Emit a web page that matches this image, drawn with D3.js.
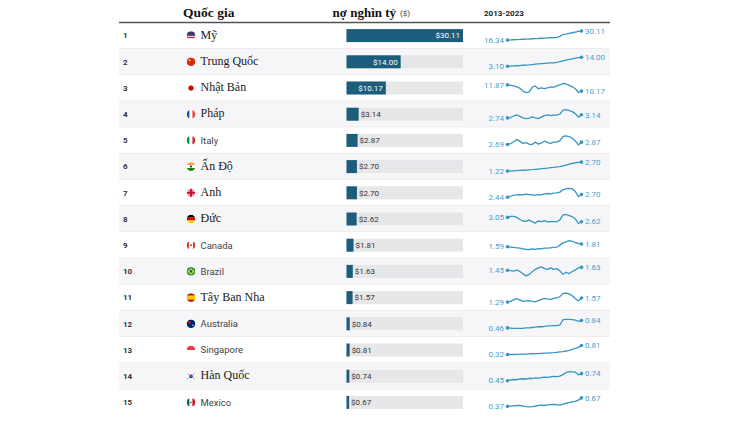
<!DOCTYPE html>
<html><head><meta charset="utf-8">
<script src="https://cdn.jsdelivr.net/npm/d3@7"></script>
<style>body{margin:0;background:#fff}svg{display:block}</style>
</head><body>
<svg id="c" width="730" height="426"></svg>
<script>
// ---------- data ----------
const ranks = [1,2,3,4,5,6,7,8,9,10,11,12,13,14,15];
const countries = ["Mỹ","Trung Quốc","Nhật Bản","Pháp","Italy","Ấn Độ","Anh","Đức","Canada","Brazil","Tây Ban Nha","Australia","Singapore","Hàn Quốc","Mexico"];
const flagCodes = ["us","cn","jp","fr","it","in","gb","de","ca","br","es","au","sg","kr","mx"];
const debt = [30.11,14.00,10.17,3.14,2.87,2.70,2.70,2.62,1.81,1.63,1.57,0.84,0.81,0.74,0.67];
const headers = ["Quốc gia","nợ nghìn tỷ","($)","2013-2023"];
const trendUS = [16.34,16.55,16.9,17.1,17.3,17.65,17.85,18.05,18.4,18.6,18.8,19.15,19.3,19.6,19.9,20.1,20.4,22.0,25.0,25.6,26.6,27.6,28.6,29.6,30.11];
const trendCN = [3.10,3.3,3.5,3.75,3.95,4.4,4.6,4.8,5.25,5.7,6.1,6.3,6.55,7.0,7.2,7.4,7.9,8.7,9.6,10.5,11.4,12.2,13.1,13.6,14.00];
const trendJP = [11.87,11.74,11.61,11.35,10.95,10.17,9.78,9.91,11.22,11.61,10.82,11.08,10.82,11.08,11.35,11.22,11.61,11.87,12.26,12.13,11.74,11.35,10.82,9.78,10.17];
const trendFR = [2.74,2.79,2.99,3.14,2.94,2.74,2.64,2.69,2.89,2.74,2.64,2.84,3.04,3.14,3.04,3.09,3.09,3.24,3.74,3.79,3.69,3.54,3.29,2.84,3.14];
const trendIT = [2.69,2.75,2.90,3.08,2.93,2.78,2.84,2.72,2.69,2.87,2.72,2.81,2.96,2.84,2.78,2.87,2.87,2.99,3.32,3.35,3.29,3.17,2.96,2.66,2.87];
const trendIN = [1.22,1.25,1.27,1.31,1.33,1.36,1.38,1.42,1.45,1.50,1.56,1.61,1.68,1.72,1.79,1.84,1.90,1.96,2.07,2.19,2.36,2.47,2.59,2.64,2.70];
const trendGB = [2.44,2.54,2.64,2.67,2.70,2.67,2.73,2.70,2.67,2.64,2.70,2.67,2.77,2.80,2.77,2.83,2.86,2.93,3.15,3.25,3.29,3.25,2.99,2.50,2.70];
const trendDE = [3.05,3.16,3.16,3.05,2.84,2.69,2.66,2.77,2.62,2.48,2.69,2.62,2.73,2.59,2.62,2.62,2.62,2.80,3.30,3.34,3.23,3.12,2.91,2.44,2.62];
const trendCA = [1.59,1.56,1.53,1.50,1.47,1.40,1.37,1.34,1.40,1.37,1.43,1.40,1.47,1.47,1.50,1.53,1.56,1.72,1.91,2.00,2.09,2.03,1.94,1.87,1.81];
const trendBR = [1.45,1.42,1.40,1.45,1.37,1.22,1.09,1.17,1.35,1.50,1.60,1.66,1.55,1.50,1.60,1.50,1.55,1.40,1.19,1.32,1.24,1.37,1.47,1.60,1.63];
const trendES = [1.29,1.34,1.44,1.52,1.44,1.34,1.37,1.39,1.34,1.31,1.39,1.47,1.54,1.49,1.47,1.54,1.57,1.67,1.88,1.90,1.85,1.72,1.52,1.37,1.57];
const trendAU = [0.46,0.45,0.44,0.44,0.44,0.44,0.46,0.46,0.48,0.50,0.52,0.52,0.54,0.56,0.56,0.58,0.58,0.61,0.88,0.90,0.90,0.88,0.86,0.80,0.84];
const trendSG = [0.32,0.32,0.32,0.33,0.33,0.34,0.34,0.35,0.36,0.37,0.37,0.38,0.39,0.40,0.41,0.42,0.44,0.46,0.48,0.51,0.55,0.60,0.65,0.71,0.81];
const trendKR = [0.45,0.48,0.50,0.49,0.52,0.53,0.52,0.55,0.54,0.57,0.56,0.58,0.60,0.59,0.61,0.63,0.62,0.64,0.70,0.79,0.82,0.81,0.80,0.69,0.74];
const trendMX = [0.37,0.38,0.39,0.40,0.40,0.38,0.36,0.35,0.36,0.38,0.40,0.41,0.40,0.42,0.43,0.44,0.43,0.41,0.45,0.48,0.50,0.53,0.55,0.59,0.67];
const trends = [trendUS,trendCN,trendJP,trendFR,trendIT,trendIN,trendGB,trendDE,trendCA,trendBR,trendES,trendAU,trendSG,trendKR,trendMX];

// ---------- styles ----------
const serifNames = new Set(["Mỹ","Trung Quốc","Nhật Bản","Pháp","Ấn Độ","Anh","Đức","Tây Ban Nha","Hàn Quốc"]);
const SERIF = "'Liberation Serif','Times New Roman',serif";
const SANS = "Roboto,'Liberation Sans',Arial,sans-serif";
const BAR = "#1d5d7c", TRACK = "#e7e7ea", SPARK = "#3596c3", SPARKTXT = "#4aa0c9";

const svg = d3.select("#c");
const rows = d3.scaleBand().domain(ranks).range([22.5, 22.5 + 15*26.2]);
const xBar = d3.scaleLinear().domain([0, d3.max(debt)]).range([346.5, 463]);
const xSpark = d3.scaleLinear().domain([0, trendUS.length - 1]).range([507.5, 581.5]);
const tableL = 119, tableR = 610;

// header
svg.append("text").attr("x",183).attr("y",17).attr("font-family",SERIF).attr("font-weight","bold")
  .attr("font-size",13.5).attr("fill","#111").text(headers[0]);
const h2 = svg.append("text").attr("x",332.5).attr("y",17).attr("fill","#111");
h2.append("tspan").attr("font-family",SERIF).attr("font-weight","bold").attr("font-size",13).text(headers[1]);
h2.append("tspan").attr("dx",4).attr("font-family",SANS).attr("font-size",8).attr("dy",-1).attr("fill","#333").text(headers[2]);
svg.append("text").attr("x",484).attr("y",15.5).attr("font-family",SANS).attr("font-weight","bold")
  .attr("font-size",8).attr("fill","#222").text(headers[3]);

// flag defs
const defs = svg.append("defs");
const FR = 4.3;
function drawFlag(g, code){
  const id = "clip-"+code;
  defs.append("clipPath").attr("id",id).append("circle").attr("r",FR);
  const f = g.append("g").attr("clip-path",`url(#${id})`);
  const R = (x,y,w,h,c)=>f.append("rect").attr("x",x).attr("y",y).attr("width",w).attr("height",h).attr("fill",c);
  const s = FR*2, o = -FR;
  switch(code){
    case "us": R(o,o,s,s,"#fff"); R(o,o+0.5,s,1.3,"#b22234"); R(o,o+3,s,1.3,"#b22234"); R(o,o+5.5,s,1.3,"#b22234"); R(o,o,s,s*0.5,"#3c3b6e"); break;
    case "cn": R(o,o,s,s,"#de2910"); f.append("circle").attr("cx",-1.5).attr("cy",-1.5).attr("r",1).attr("fill","#ffde00"); break;
    case "jp": R(o,o,s,s,"#fff"); f.append("circle").attr("r",2.6).attr("fill","#d30000"); break;
    case "fr": R(o,o,s/3,s,"#0055a4"); R(o+s/3,o,s/3,s,"#fff"); R(o+2*s/3,o,s/3,s,"#ef4135"); break;
    case "it": R(o,o,s/3,s,"#009246"); R(o+s/3,o,s/3,s,"#fff"); R(o+2*s/3,o,s/3,s,"#ce2b37"); break;
    case "in": R(o,o,s,s/3,"#ff9933"); R(o,o+s/3,s,s/3,"#fff"); R(o,o+2*s/3,s,s/3,"#138808"); f.append("circle").attr("r",1).attr("fill","#000080"); break;
    case "gb": R(o,o,s,s,"#e8d8e0"); R(-0.9,o,1.8,s,"#c8102e"); R(o,-0.9,s,1.8,"#c8102e");
      f.append("path").attr("d","M-4,-4L4,4M4,-4L-4,4").attr("stroke","#c8102e").attr("stroke-width",0.8); break;
    case "de": R(o,o,s,s/3,"#000"); R(o,o+s/3,s,s/3,"#dd0000"); R(o,o+2*s/3,s,s/3,"#ffce00"); break;
    case "ca": R(o,o,s,s,"#fff"); R(o,o,s*0.25,s,"#d52b1e"); R(o+s*0.75,o,s*0.25,s,"#d52b1e"); f.append("circle").attr("r",1).attr("fill","#d52b1e"); break;
    case "br": R(o,o,s,s,"#229e45"); f.append("path").attr("d","M0,-3L3.4,0L0,3L-3.4,0Z").attr("fill","#f8e509"); f.append("circle").attr("r",1.4).attr("fill","#2b49a3"); break;
    case "es": R(o,o,s,s,"#c60b1e"); R(o,o+s*0.25,s,s*0.5,"#ffc400"); break;
    case "au": R(o,o,s,s,"#012169"); f.append("circle").attr("cx",-1.5).attr("cy",-1.5).attr("r",1.4).attr("fill","#c8102e"); f.append("circle").attr("cx",2).attr("cy",1.5).attr("r",0.7).attr("fill","#fff"); break;
    case "sg": R(o,o,s,s,"#fff"); R(o,o,s,s/2,"#ef3340"); break;
    case "kr": R(o,o,s,s,"#fff"); f.append("path").attr("d","M-2,0A2,2 0 0 1 2,0Z").attr("fill","#cd2e3a"); f.append("path").attr("d","M-2,0A2,2 0 0 0 2,0Z").attr("fill","#0047a0");
      f.append("path").attr("d","M-4,-3L-2.6,-1.6M4,-3L2.6,-1.6M-4,3L-2.6,1.6M4,3L2.6,1.6").attr("stroke","#000").attr("stroke-width",0.7); break;
    case "mx": R(o,o,s/3,s,"#006847"); R(o+s/3,o,s/3,s,"#fff"); R(o+2*s/3,o,s/3,s,"#ce1126"); f.append("circle").attr("r",0.9).attr("fill","#8a6a2a"); break;
  }
}

// rows
const data = ranks.map((r,i)=>({rank:r, name:countries[i], flag:flagCodes[i], debt:debt[i], trend:trends[i]}));
const g = svg.selectAll("g.row").data(data).join("g").attr("class","row")
  .attr("transform", d=>`translate(0,${rows(d.rank)})`);
const bh = rows.bandwidth(), cy = bh/2;

g.append("rect").attr("x",tableL).attr("width",tableR-tableL).attr("height",bh)
  .attr("fill",(d,i)=> i%2===1 ? "#f6f6f8" : "#fff");
g.filter((d,i)=>i<14).append("line").attr("x1",tableL).attr("x2",tableR).attr("y1",bh).attr("y2",bh)
  .attr("stroke","#e3e3e6").attr("stroke-width",1);

g.append("text").attr("x",123).attr("y",cy).attr("dy","0.35em").attr("font-family",SANS)
  .attr("font-weight","bold").attr("font-size",8).attr("fill","#333").text(d=>d.rank);

g.append("g").attr("transform",`translate(191,${cy})`).each(function(d){ drawFlag(d3.select(this), d.flag); });

g.append("text").attr("x",200.5).attr("y",cy).attr("dy",d=>serifNames.has(d.name)?"0.25em":"0.35em")
  .attr("font-family",d=>serifNames.has(d.name)?SERIF:SANS)
  .attr("font-size",d=>serifNames.has(d.name)?12:9.5)
  .attr("fill",d=>serifNames.has(d.name)?"#1a1a1a":"#444")
  .text(d=>d.name);

// bars
const barH = 13;
g.append("rect").attr("x",xBar(0)).attr("y",cy-barH/2).attr("width",xBar.range()[1]-xBar(0)).attr("height",barH).attr("fill",TRACK);
g.append("rect").attr("x",xBar(0)).attr("y",cy-barH/2).attr("width",d=>xBar(d.debt)-xBar(0)).attr("height",barH).attr("fill",BAR);
g.append("text").attr("y",cy).attr("dy","0.35em").attr("font-family",SANS).attr("font-size",8)
  .each(function(d){
    const w = xBar(d.debt)-xBar(0), t = d3.select(this);
    if (w > 30) t.attr("x",xBar(d.debt)-3).attr("text-anchor","end").attr("fill","#fff");
    else t.attr("x",xBar(d.debt)+2).attr("text-anchor","start").attr("fill","#333");
  })
  .text(d=>"$"+d.debt.toFixed(2));

// sparklines
g.each(function(d){
  const sel = d3.select(this);
  const y = d3.scaleLinear().domain(d3.extent(d.trend)).range([cy+4.5, cy-4.5]);
  const line = d3.line().x((v,i)=>xSpark(i)).y(v=>y(v));
  sel.append("path").attr("d",line(d.trend)).attr("fill","none").attr("stroke",SPARK).attr("stroke-width",1.3).attr("stroke-linejoin","round");
  const n = d.trend.length-1;
  [0,n].forEach(i=>sel.append("circle").attr("cx",xSpark(i)).attr("cy",y(d.trend[i])).attr("r",1.8).attr("fill",SPARK));
  sel.append("text").attr("x",xSpark(0)-3.5).attr("y",y(d.trend[0])).attr("dy","0.35em").attr("text-anchor","end")
    .attr("font-family",SANS).attr("font-size",8).attr("fill",SPARKTXT).text(d.trend[0].toFixed(2));
  sel.append("text").attr("x",xSpark(n)+3.5).attr("y",y(d.trend[n])).attr("dy","0.35em")
    .attr("font-family",SANS).attr("font-size",8).attr("fill",SPARKTXT).text(d.trend[n].toFixed(2));
});

// header rule
svg.append("line").attr("x1",tableL).attr("x2",tableR).attr("y1",22.5).attr("y2",22.5).attr("stroke","#555").attr("stroke-width",1.5);
</script>
</body></html>
